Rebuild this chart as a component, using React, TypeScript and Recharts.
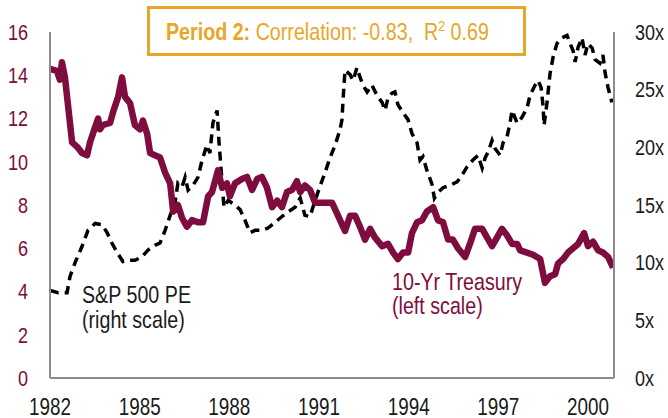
import React from "react";
import { LineChart, Line, XAxis, YAxis } from "recharts";

const treasuryYears = [
  1982.0, 1982.23, 1982.33, 1982.4, 1982.5, 1982.74, 1982.9, 1983.07, 1983.24, 1983.34,
  1983.51, 1983.61, 1983.67, 1983.77, 1984.01, 1984.11, 1984.28, 1984.41, 1984.51, 1984.68,
  1984.84, 1985.01, 1985.11, 1985.25, 1985.35, 1985.51, 1985.68, 1985.85, 1986.02, 1986.12,
  1986.28, 1986.42, 1986.58, 1986.75, 1986.95, 1987.12, 1987.29, 1987.42, 1987.62, 1987.76,
  1987.92, 1988.02, 1988.19, 1988.42, 1988.59, 1988.76, 1988.93, 1989.09, 1989.26, 1989.43,
  1989.6, 1989.76, 1989.93, 1990.1, 1990.26, 1990.37, 1990.53, 1990.7, 1990.87, 1991.1,
  1991.44, 1991.64, 1991.87, 1992.04, 1992.21, 1992.37, 1992.54, 1992.71, 1992.87, 1993.11,
  1993.31, 1993.48, 1993.64, 1993.81, 1993.98, 1994.11, 1994.28, 1994.45, 1994.61, 1994.82,
  1994.98, 1995.15, 1995.32, 1995.48, 1995.65, 1995.89, 1996.05, 1996.22, 1996.46, 1996.62,
  1996.79, 1996.96, 1997.12, 1997.29, 1997.46, 1997.63, 1997.73, 1997.96, 1998.16, 1998.4,
  1998.56, 1998.73, 1998.9, 1999.0, 1999.17, 1999.33, 1999.5, 1999.67, 1999.87, 2000.0,
  2000.17, 2000.34, 2000.5, 2000.67, 2000.84,
];
const treasuryValues = [
  14.3, 14.2, 13.8, 14.6, 13.9, 10.9, 10.7, 10.4, 10.3, 10.9,
  11.6, 12.0, 11.5, 11.7, 11.8, 12.3, 13.0, 13.9, 13.0, 12.7,
  11.7, 11.5, 11.9, 11.3, 10.4, 10.3, 10.2, 9.5, 9.0, 7.7,
  8.0, 7.4, 7.0, 7.3, 7.2, 7.2, 8.4, 8.6, 9.6, 8.8,
  9.0, 8.4, 9.0, 9.2, 9.3, 8.7, 9.2, 9.3, 8.8, 7.9,
  8.2, 7.9, 8.6, 8.7, 9.1, 8.6, 8.9, 8.7, 8.1, 8.1,
  8.1, 7.5, 6.8, 7.5, 7.5, 7.0, 6.4, 6.9, 6.5, 6.1,
  6.2, 5.8, 5.5, 5.8, 5.8, 6.7, 7.2, 7.3, 7.7, 7.9,
  7.3, 7.2, 6.4, 6.4, 6.0, 5.6, 6.2, 6.9, 6.9, 6.5,
  6.1, 6.5, 6.9, 6.6, 6.2, 6.2, 5.9, 5.8, 5.7, 5.5,
  4.4, 4.7, 4.8, 5.3, 5.5, 5.8, 6.0, 6.2, 6.7, 6.1,
  6.3, 5.9, 5.8, 5.6, 5.1,
];

const peYears = [
  1982.0, 1982.27, 1982.57, 1982.67, 1982.84, 1983.07, 1983.27, 1983.51, 1983.74, 1983.91,
  1984.07, 1984.24, 1984.44, 1984.61, 1984.84, 1985.08, 1985.28, 1985.51, 1985.68, 1985.85,
  1986.02, 1986.18, 1986.28, 1986.42, 1986.52, 1986.62, 1986.78, 1986.95, 1987.09, 1987.25,
  1987.35, 1987.45, 1987.59, 1987.65, 1987.76, 1987.82, 1987.96, 1988.19, 1988.36, 1988.52,
  1988.69, 1988.86, 1989.09, 1989.29, 1989.53, 1989.76, 1989.96, 1990.2, 1990.37, 1990.53,
  1990.7, 1990.87, 1991.03, 1991.2, 1991.37, 1991.54, 1991.7, 1991.77, 1991.8, 1991.87,
  1992.04, 1992.14, 1992.27, 1992.37, 1992.47, 1992.61, 1992.77, 1992.94, 1993.11, 1993.21,
  1993.31, 1993.44, 1993.54, 1993.64, 1993.81, 1993.98, 1994.11, 1994.28, 1994.38, 1994.48,
  1994.61, 1994.78, 1994.86, 1994.98, 1995.15, 1995.38, 1995.62, 1995.79, 1995.95, 1996.15,
  1996.32, 1996.46, 1996.56, 1996.66, 1996.79, 1996.89, 1997.06, 1997.16, 1997.29, 1997.39,
  1997.46, 1997.63, 1997.79, 1997.96, 1998.06, 1998.23, 1998.33, 1998.43, 1998.5, 1998.53,
  1998.63, 1998.73, 1998.83, 1998.96, 1999.13, 1999.3, 1999.4, 1999.5, 1999.57, 1999.67,
  1999.8, 1999.9, 2000.0, 2000.14, 2000.24, 2000.4, 2000.5, 2000.57, 2000.67, 2000.8,
];
const peValues = [
  7.6, 7.4, 7.4, 8.8, 10.0, 11.4, 12.8, 13.4, 13.3, 12.6,
  11.7, 10.9, 10.1, 10.2, 10.2, 10.5, 11.1, 11.5, 11.7, 12.8,
  14.1, 15.2, 16.9, 16.6, 17.4, 16.3, 16.7, 17.4, 18.9, 20.2,
  19.5, 22.1, 23.2, 20.6, 16.9, 14.8, 15.4, 15.0, 14.6, 13.7,
  12.6, 12.8, 12.8, 13.0, 13.5, 14.0, 14.4, 14.8, 15.6, 14.1,
  14.0, 15.4, 16.6, 17.8, 19.1, 20.2, 21.5, 22.4, 23.9, 26.7,
  26.3, 25.8, 26.9, 26.1, 25.4, 24.8, 25.4, 24.5, 23.9, 23.2,
  24.3, 24.7, 24.8, 23.7, 23.0, 22.4, 21.2, 20.4, 18.9, 19.2,
  18.0, 16.8, 15.6, 16.1, 16.5, 16.7, 17.0, 17.6, 18.3, 18.9,
  19.3, 18.2, 19.1, 19.6, 20.6, 19.9, 19.3, 20.4, 20.9, 22.1,
  23.2, 22.1, 22.6, 23.4, 24.5, 25.4, 25.8, 25.2, 23.5, 21.9,
  23.9, 26.4, 27.8, 29.0, 29.5, 29.7, 29.0, 28.4, 27.4, 28.7,
  29.5, 28.0, 29.0, 28.6, 27.6, 27.3, 28.0, 26.5, 25.2, 23.9,
];

const xTicks = [1982, 1985, 1988, 1991, 1994, 1997, 2000];
const leftTicks = [0, 2, 4, 6, 8, 10, 12, 14, 16];
const rightTicks = [0, 5, 10, 15, 20, 25, 30];

type Row = { year: number; tsy?: number; pe?: number };
const rowMap = new Map<number, Row>();
treasuryYears.forEach((y, i) => {
  const r = rowMap.get(y) || { year: y };
  r.tsy = treasuryValues[i];
  rowMap.set(y, r);
});
peYears.forEach((y, i) => {
  const r = rowMap.get(y) || { year: y };
  r.pe = peValues[i];
  rowMap.set(y, r);
});
const data = Array.from(rowMap.values()).sort((a, b) => a.year - b.year);

const FONT = "'Liberation Sans', Arial, sans-serif";
const NARROW = 0.82;
const CRIMSON = "#7E0C3E";
const GOLD = "#E8A628";
const AXIS = "#8C8C8C";
const INK = "#1a1a1a";

function NarrowText(props: {
  x: number;
  y: number;
  anchor?: "start" | "middle" | "end";
  size: number;
  fill: string;
  dy?: string | number;
  weight?: string;
  children: React.ReactNode;
}) {
  const { x, y, anchor = "start", size, fill, dy, weight, children } = props;
  return (
    <g transform={`translate(${x},${y}) scale(${NARROW},1)`}>
      <text
        x={0}
        y={0}
        dy={dy}
        textAnchor={anchor}
        fontSize={size}
        fill={fill}
        fontFamily={FONT}
        fontWeight={weight}
        style={{ whiteSpace: "pre" }}
      >
        {children}
      </text>
    </g>
  );
}

const XTick = (p: any) => (
  <NarrowText x={p.x} y={p.y + 15} anchor="middle" size={23} fill={INK}>
    {p.payload.value}
  </NarrowText>
);
const LeftTick = (p: any) => (
  <NarrowText x={p.x} y={p.y} anchor="end" size={22} fill={CRIMSON} dy="0.355em">
    {p.payload.value}
  </NarrowText>
);
const RightTick = (p: any) => (
  <NarrowText x={p.x} y={p.y} anchor="start" size={22} fill={INK} dy="0.355em">
    {`${p.payload.value}x`}
  </NarrowText>
);

export default function App() {
  return (
    <div style={{ position: "absolute", left: 0, top: 0, width: 668, height: 418, background: "#fff" }}>
      <LineChart width={668} height={418} data={data} margin={{ top: 32, right: 0, bottom: 0, left: 0 }}>
        <XAxis
          dataKey="year"
          type="number"
          domain={[1982, 2000.87]}
          ticks={xTicks}
          allowDataOverflow
          tickLine={false}
          tickSize={0}
          tickMargin={22}
          height={40}
          axisLine={{ stroke: AXIS, strokeWidth: 2 }}
          tick={XTick}
        />
        <YAxis
          yAxisId="left"
          domain={[0, 16]}
          ticks={leftTicks}
          width={50}
          tickLine={false}
          tickSize={0}
          tickMargin={22}
          axisLine={{ stroke: AXIS, strokeWidth: 2 }}
          tick={LeftTick}
        />
        <YAxis
          yAxisId="pe"
          orientation="right"
          domain={[0, 30]}
          ticks={rightTicks}
          width={54}
          tickLine={false}
          tickSize={0}
          tickMargin={21}
          axisLine={{ stroke: AXIS, strokeWidth: 2 }}
          tick={RightTick}
        />
        <Line
          yAxisId="pe"
          dataKey="pe"
          type="linear"
          stroke="#000"
          strokeWidth={3.5}
          strokeDasharray="9 6"
          dot={false}
          connectNulls
          isAnimationActive={false}
        />
        <Line
          yAxisId="left"
          dataKey="tsy"
          type="linear"
          stroke={CRIMSON}
          strokeWidth={6.5}
          strokeLinejoin="round"
          dot={false}
          connectNulls
          isAnimationActive={false}
        />
      </LineChart>
      <svg width={668} height={418} style={{ position: "absolute", left: 0, top: 0, pointerEvents: "none" }}>
        <rect x={148.5} y={7.5} width={376} height={47} fill="#fff" stroke={GOLD} strokeWidth={3} />
        <g transform={`translate(166,40) scale(${NARROW},1)`}>
          <text x={0} y={0} fill={GOLD} fontSize={24} fontFamily={FONT} style={{ whiteSpace: "pre" }}>
            <tspan fontWeight="bold">Period 2:</tspan>
            <tspan>{" Correlation: -0.83,  R"}</tspan>
            <tspan fontSize={15} dy={-9}>2</tspan>
            <tspan dy={9}>{" 0.69"}</tspan>
          </text>
        </g>
        <NarrowText x={82} y={303} size={24} fill={INK}>S&amp;P 500 PE</NarrowText>
        <NarrowText x={82} y={328} size={24} fill={INK}>(right scale)</NarrowText>
        <NarrowText x={392} y={290} size={24} fill={CRIMSON}>10-Yr Treasury</NarrowText>
        <NarrowText x={392} y={314} size={24} fill={CRIMSON}>(left scale)</NarrowText>
      </svg>
    </div>
  );
}
